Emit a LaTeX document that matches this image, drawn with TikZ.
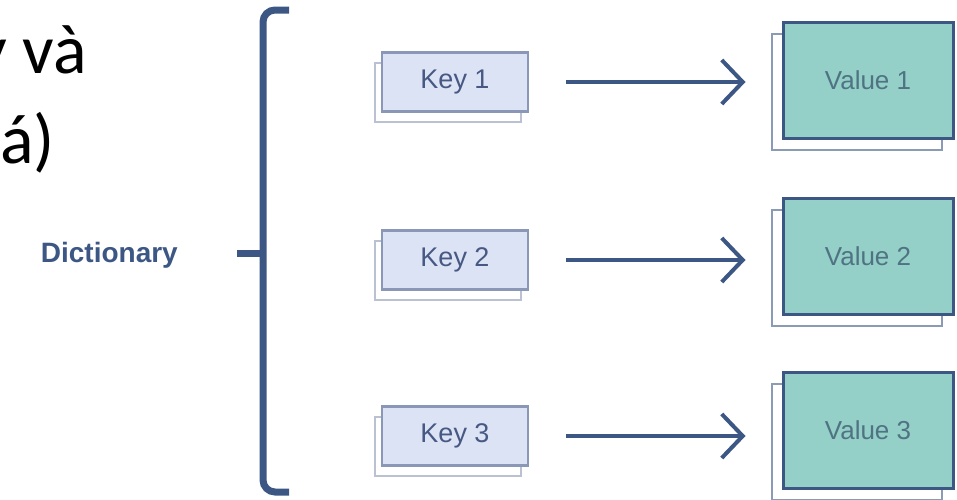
\documentclass[tikz,border=0pt]{standalone}
\usepackage{fontspec}
\setmainfont{Carlito}
\newfontfamily\arialfont{Liberation Sans}
\usepackage{xcolor}
\usetikzlibrary{arrows.meta,shadows}
\definecolor{inkblue}{HTML}{3D5784}
\definecolor{keyfill}{HTML}{DCE3F4}
\definecolor{keyline}{HTML}{8A97B6}
\definecolor{valfill}{HTML}{94CFC8}
\definecolor{valtext}{HTML}{4F7382}
\definecolor{keytext}{HTML}{475883}

\begin{document}
\begin{tikzpicture}[x=1pt,y=-1pt,
    keybox/.style={draw=keyline,line width=2.5pt,fill=keyfill,minimum width=146pt,minimum height=59pt,inner sep=0pt,
      font=\arialfont\fontsize{27}{30}\selectfont,text=keytext,
      copy shadow={shadow xshift=-7pt,shadow yshift=-10pt,draw=keyline!60,fill=white,line width=2pt}},
    valbox/.style={draw=inkblue,line width=3pt,fill=valfill,minimum width=170pt,minimum height=116pt,inner sep=0pt,
      font=\arialfont\fontsize{26}{30}\selectfont,text=valtext,
      copy shadow={shadow xshift=-11pt,shadow yshift=-12pt,draw=inkblue!60,fill=white,line width=2pt}},
    flow/.style={draw=inkblue,line width=4.5pt,-{Straight Barb[length=21pt,width=44pt,line width=4pt]},
      shorten <=37pt,shorten >=36pt}]
  \useasboundingbox (0,0) rectangle (957,499);
  \node[anchor=base east,inner sep=0pt,font=\fontsize{70}{84}\selectfont] (line1) at (87,73) {y và};
  \node[anchor=base east,inner sep=0pt,font=\fontsize{70}{84}\selectfont] (line2) at (55,163) {á)};
  \node[anchor=east,inner sep=0pt,text=inkblue,font=\arialfont\bfseries\fontsize{28}{30}\selectfont] (dict) at (178,255) {Dictionary};
  \draw[inkblue,line width=7pt,rounded corners=12pt] (289,10) -- (263,10) -- (263,492) -- (289,492);
  \coordinate (tick) at (237,253);
  \draw[inkblue,line width=7pt] (tick) -- (263,253);
  \node[keybox] (k1) at (455,82) {Key 1};
  \node[keybox] (k2) at (455,260) {Key 2};
  \node[keybox] (k3) at (455,436) {Key 3};
  \node[valbox] (v1) at (868,80) {Value 1};
  \node[valbox] (v2) at (868,256) {Value 2};
  \node[valbox] (v3) at (868,430) {Value 3};
  \draw[flow] (k1.east) -- (k1.east -| v1.west);
  \draw[flow] (k2.east) -- (k2.east -| v2.west);
  \draw[flow] (k3.east) -- (k3.east -| v3.west);
\end{tikzpicture}
\end{document}
